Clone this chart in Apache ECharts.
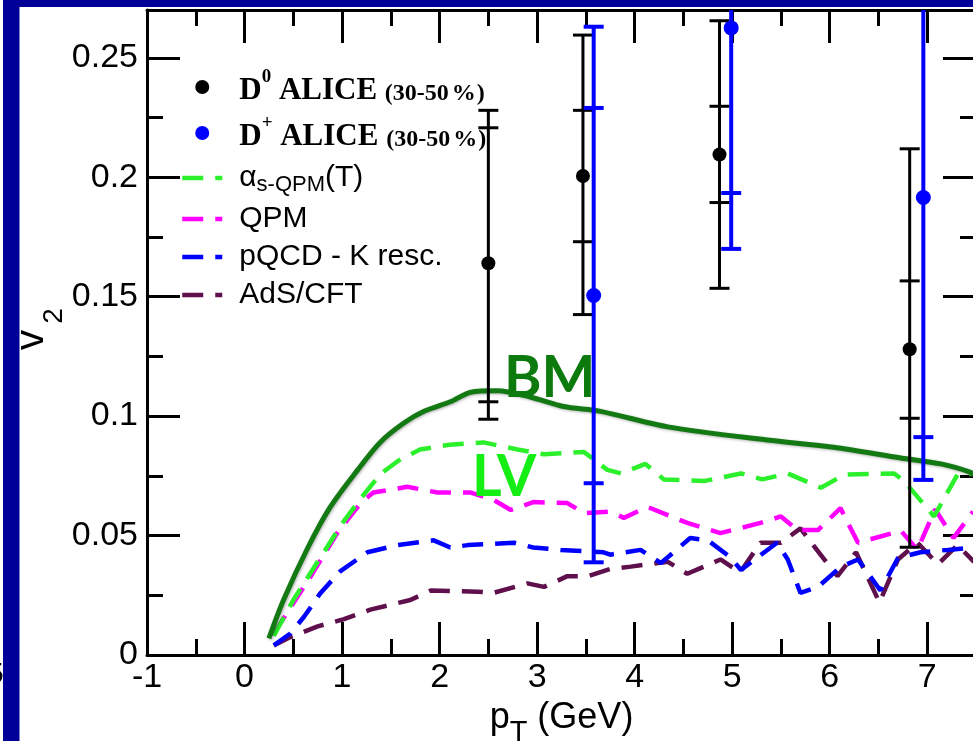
<!DOCTYPE html>
<html><head><meta charset="utf-8">
<script src="https://cdn.jsdelivr.net/npm/echarts@6/dist/echarts.min.js"></script>
<style>html,body{margin:0;padding:0;background:#fff;overflow:hidden}#c{width:973px;height:741px}</style>
</head><body><div id="c"></div>
<script>
// ---- tick labels ----
const xTickLabels = ['-1','0','1','2','3','4','5','6','7'];
const yTickLabels = ['0','0.05','0.1','0.15','0.2','0.25'];

// ---- D0 ALICE (30-50%) ----
const d0X      = [2.5, 3.47, 4.87, 6.82];
const d0Y      = [0.164, 0.2005, 0.2095, 0.128];
const d0StatLo = [0.0987, 0.1425, 0.1535, 0.0451];
const d0StatHi = [0.228, 0.2595, 0.2655, 0.2119];
const d0SystLo = [0.106, 0.173, 0.1894, 0.0991];
const d0SystHi = [0.2207, 0.228, 0.2297, 0.1566];

// ---- D+ ALICE (30-50%) ----
const dpX      = [3.58, 4.99, 6.96];
const dpY      = [0.1505, 0.2625, 0.1915];
const dpStatLo = [0.0388, 0.170, 0.0733];
const dpStatHi = [0.263, 0.355, 0.310];
const dpSystLo = [0.0719, 0.1934, 0.0912];
const dpSystHi = [0.229, 0.332, 0.292];

// ---- model curves [pT, v2] ----
const bmCurve = [[0.25,0.007],[0.40,0.023],[0.65,0.045],[0.88,0.062],[1.16,0.0775],[1.39,0.089],[1.63,0.097],[1.84,0.102],[2.11,0.106],[2.32,0.110],[2.59,0.1106],[2.93,0.108],[3.27,0.104],[3.65,0.102],[4.34,0.0955],[5.36,0.090],[6.04,0.087],[6.73,0.0825],[7.14,0.080],[7.43,0.0767],[7.5,0.075]];
const alphaQPM = [[0.3,0.008],[0.5,0.023],[0.75,0.039],[1.0,0.055],[1.2,0.066],[1.4,0.076],[1.6,0.082],[1.8,0.086],[2.1,0.088],[2.45,0.089],[2.8,0.086],[3.07,0.084],[3.48,0.085],[3.72,0.0775],[3.86,0.076],[4.11,0.080],[4.30,0.0735],[4.71,0.0728],[5.09,0.076],[5.31,0.0735],[5.57,0.076],[5.91,0.070],[6.15,0.0755],[6.66,0.076],[6.76,0.073],[7.07,0.058],[7.31,0.0755],[7.5,0.076]];
const qpm = [[0.3,0.009],[0.68,0.033],[0.95,0.051],[1.19,0.0636],[1.32,0.068],[1.67,0.0704],[1.98,0.068],[2.32,0.068],[2.55,0.065],[2.73,0.0607],[2.96,0.064],[3.31,0.0636],[3.48,0.0594],[3.75,0.060],[3.89,0.0574],[4.13,0.062],[4.54,0.0553],[4.88,0.051],[5.29,0.0553],[5.50,0.058],[5.67,0.0523],[5.88,0.0523],[6.11,0.0615],[6.29,0.047],[6.73,0.052],[6.9,0.044],[7.08,0.061],[7.27,0.049],[7.47,0.060]];
const pqcd = [[0.3,0.004],[0.47,0.009],[0.61,0.016],[0.78,0.026],[0.98,0.035],[1.26,0.043],[1.57,0.046],[1.94,0.048],[2.11,0.045],[2.29,0.046],[2.76,0.047],[2.96,0.045],[3.24,0.044],[3.68,0.043],[3.75,0.042],[4.06,0.044],[4.27,0.0385],[4.57,0.049],[4.75,0.048],[4.98,0.041],[5.09,0.0356],[5.46,0.047],[5.57,0.040],[5.70,0.026],[5.88,0.0285],[6.11,0.0368],[6.29,0.040],[6.52,0.027],[6.70,0.0406],[6.93,0.043],[7.21,0.044],[7.48,0.045]];
const adsCFT = [[0.3,0.004],[0.47,0.0075],[0.75,0.012],[1.02,0.015],[1.29,0.019],[1.70,0.023],[1.91,0.027],[2.39,0.0265],[2.55,0.026],[2.90,0.030],[3.07,0.0285],[3.31,0.033],[3.52,0.033],[3.75,0.036],[3.96,0.037],[4.34,0.039],[4.54,0.034],[4.88,0.040],[5.08,0.0345],[5.29,0.047],[5.50,0.047],[5.70,0.053],[6.0,0.037],[6.08,0.033],[6.27,0.043],[6.51,0.022],[6.70,0.040],[6.90,0.047],[7.11,0.038],[7.31,0.046],[7.48,0.039]];

const SANS = "'Liberation Sans', Arial, Helvetica, sans-serif";
const SERIF = "'Liberation Serif', 'Times New Roman', serif";

const chart = echarts.init(document.getElementById('c'), null, {renderer: 'canvas'});

function errRender(color, lw) {
  return function (params, api) {
    const x = api.value(0);
    const pt = v => api.coord([x, v]);
    const lo = pt(api.value(1)), hi = pt(api.value(2)), slo = pt(api.value(3)), shi = pt(api.value(4));
    const hw = 10;
    const cap = p => ({type: 'line', shape: {x1: p[0] - hw, y1: p[1], x2: p[0] + hw, y2: p[1]}, style: {stroke: color, lineWidth: lw}});
    return {type: 'group', children: [
      {type: 'line', shape: {x1: lo[0], y1: lo[1], x2: hi[0], y2: hi[1]}, style: {stroke: color, lineWidth: lw}},
      cap(lo), cap(hi), cap(slo), cap(shi)
    ]};
  };
}

const xFmt = v => { const s = String(Math.round(v * 100) / 100); return xTickLabels.includes(s) ? s : ''; };
const yFmt = v => { const s = String(Math.round(v * 1000) / 1000); return yTickLabels.includes(s) ? s : ''; };

const axLine = {onZero: false, lineStyle: {color: '#000', width: 3}};
const noLine = {show: false, onZero: false};
const majTick = {inside: true, length: 33, lineStyle: {color: '#000', width: 3}};
const minTick = {inside: true, length: 16, lineStyle: {color: '#000', width: 3}};

const legendText = {
  'D0': '{gap| }{bd|D}{sup|0}{bd| ALICE }{sm|(30-50}{pct|%}{sm|)}',
  'D+': '{gap| }{bd|D}{sup|+}{bd| ALICE }{sm|(30-50}{pct|%}{sm|)}',
  'alpha': '{gap| }{ma|α}{sub|s-QPM}{ma|(T)}',
  'QPM': '{gap| }{m|QPM}',
  'pQCD': '{gap| }{m|pQCD - K resc.}',
  'AdS': '{gap| }{m|AdS/CFT}'
};

const LW = 4.5;
const pairs = arr => arr.map(p => [p[0], p[1]]);
const dashed = (name, data, color) => ({
  name, type: 'line', data: pairs(data), xAxisIndex: 0, yAxisIndex: 0,
  symbol: 'none', showSymbol: false, z: 2, clip: true,
  lineStyle: {color, width: LW, type: [21, 12]}, itemStyle: {color}
});
const legLine = name => ({name, itemStyle: {opacity: 0}, lineStyle: {width: LW}});

const option = {
  animation: false,
  backgroundColor: '#ffffff',
  grid: {left: 147, top: 10, width: 829, height: 645, outerBoundsMode: 'none', containLabel: false},
  xAxis: [
    {type: 'value', position: 'bottom', min: -1, max: 7.5, interval: 1, axisLine: axLine, axisTick: majTick,
     splitLine: {show: false},
     axisLabel: {formatter: xFmt, fontSize: 34, color: '#000', fontFamily: SANS, margin: 6, showMaxLabel: false},
     name: '{n|p}{t|T}{n| (GeV)}', nameLocation: 'middle', nameGap: 41,
     nameTextStyle: {color: '#000', fontFamily: SANS, rich: {
       n: {fontSize: 36, fontFamily: SANS, color: '#000', verticalAlign: 'top'},
       t: {fontSize: 29, fontFamily: SANS, color: '#000', verticalAlign: 'bottom', lineHeight: 48}}}},
    {type: 'value', position: 'bottom', min: -1, max: 7.5, interval: 0.5, axisLine: noLine, axisTick: minTick,
     splitLine: {show: false}, axisLabel: {show: false}},
    {type: 'value', position: 'top', min: -1, max: 7.5, interval: 1, axisLine: axLine, axisTick: majTick,
     splitLine: {show: false}, axisLabel: {show: false}},
    {type: 'value', position: 'top', min: -1, max: 7.5, interval: 0.5, axisLine: noLine, axisTick: minTick,
     splitLine: {show: false}, axisLabel: {show: false}}
  ],
  yAxis: [
    {type: 'value', position: 'left', min: 0, max: 0.27, interval: 0.05, axisLine: axLine, axisTick: majTick,
     splitLine: {show: false},
     axisLabel: {formatter: yFmt, fontSize: 34, color: '#000', fontFamily: SANS, margin: 9, showMaxLabel: false}},
    {type: 'value', position: 'left', min: 0, max: 0.27, interval: 0.025, axisLine: noLine, axisTick: minTick,
     splitLine: {show: false}, axisLabel: {show: false}},
    {type: 'value', position: 'right', min: 0, max: 0.27, interval: 0.05, axisLine: axLine, axisTick: majTick,
     splitLine: {show: false}, axisLabel: {show: false}},
    {type: 'value', position: 'right', min: 0, max: 0.27, interval: 0.025, axisLine: noLine, axisTick: minTick,
     splitLine: {show: false}, axisLabel: {show: false}}
  ],
  legend: {
    orient: 'vertical', left: 180, top: 68, itemWidth: 40, itemHeight: 14, itemGap: 8, padding: 0,
    selectedMode: false,
    data: [
      {name: 'D0', icon: 'circle'},
      {name: 'D+', icon: 'circle'},
      legLine('alpha'), legLine('QPM'), legLine('pQCD'), legLine('AdS')
    ],
    formatter: name => legendText[name],
    textStyle: {fontFamily: SANS, fontSize: 30, color: '#000', rich: {
      gap: {width: 12, fontSize: 20},
      bd: {fontFamily: SERIF, fontWeight: 'bold', fontSize: 31, color: '#000', verticalAlign: 'bottom', lineHeight: 38},
      sup: {fontFamily: SERIF, fontWeight: 'bold', fontSize: 19, color: '#000', verticalAlign: 'top'},
      sm: {fontFamily: SERIF, fontWeight: 'bold', fontSize: 24, color: '#000', verticalAlign: 'bottom'},
      pct: {fontFamily: SERIF, fontWeight: 'bold', fontSize: 24, color: '#000', verticalAlign: 'bottom', padding: [0, 1, 0, 3]},
      ma: {fontFamily: SANS, fontSize: 30, color: '#000', verticalAlign: 'middle', lineHeight: 36, height: 36},
      m: {fontFamily: SANS, fontSize: 30, color: '#000', verticalAlign: 'middle', lineHeight: 32},
      sub: {fontFamily: SANS, fontSize: 22, color: '#000', verticalAlign: 'bottom', lineHeight: 36}
    }}
  },
  graphic: [
    {type: 'text', left: -13, top: 660, z: 0, style: {text: '5', font: "30px 'Liberation Sans'", fill: '#000'}},
    {type: 'rect', shape: {x: 3, y: 0, width: 16.5, height: 741}, style: {fill: '#000099'}, z: 10},
    {type: 'rect', shape: {x: 3, y: 0, width: 970, height: 7}, style: {fill: '#000099'}, z: 10},
    {type: 'text', x: 31.5, y: 340, rotation: Math.PI / 2, z: 20,
     style: {text: 'v', fill: '#000', font: "41px 'Liberation Sans'", align: 'center', verticalAlign: 'middle'}},
    {type: 'text', x: 54.5, y: 316, rotation: Math.PI / 2, z: 20,
     style: {text: '2', fill: '#000', font: "28px 'Liberation Sans'", align: 'center', verticalAlign: 'middle'}},
    {type: 'text', x: 504, y: 379, z: 20, style: {text: 'BM', fill: '#0d7a0d', font: "bold 57px Lato", verticalAlign: 'middle', align: 'left'}},
    {type: 'text', x: 472, y: 478, z: 20, style: {text: 'LV', fill: '#14ee14', font: "bold 57px Lato", verticalAlign: 'middle', align: 'left'}}
  ],
  series: [
    dashed('AdS', adsCFT, '#5e0f4c'),
    dashed('pQCD', pqcd, '#0000ff'),
    dashed('QPM', qpm, '#ff00ff'),
    dashed('alpha', alphaQPM, '#2cf02c'),
    {name: 'BM', type: 'line', data: pairs(bmCurve), symbol: 'none', showSymbol: false, smooth: 0.3, z: 3, clip: true,
     lineStyle: {color: '#137a13', width: 5, shadowBlur: 3, shadowColor: 'rgba(0,0,0,0.3)', shadowOffsetX: 1, shadowOffsetY: 1}},
    {name: 'D0err', type: 'custom', renderItem: errRender('#000000', 3), clip: true, z: 4,
     data: d0X.map((x, i) => [x, d0StatLo[i], d0StatHi[i], d0SystLo[i], d0SystHi[i]]),
     encode: {x: 0, y: [1, 2]}},
    {name: 'Dperr', type: 'custom', renderItem: errRender('#0000ff', 4), clip: true, z: 4,
     data: dpX.map((x, i) => [x, dpStatLo[i], dpStatHi[i], dpSystLo[i], dpSystHi[i]]),
     encode: {x: 0, y: [1, 2]}},
    {name: 'D0', type: 'scatter', data: d0X.map((x, i) => [x, d0Y[i]]), symbol: 'circle', symbolSize: 14, z: 5,
     itemStyle: {color: '#000000', opacity: 1}, clip: true},
    {name: 'D+', type: 'scatter', data: dpX.map((x, i) => [x, dpY[i]]), symbol: 'circle', symbolSize: 15, z: 5,
     itemStyle: {color: '#0000ff', opacity: 1}, clip: true}
  ]
};
chart.setOption(option);
</script></body></html>
